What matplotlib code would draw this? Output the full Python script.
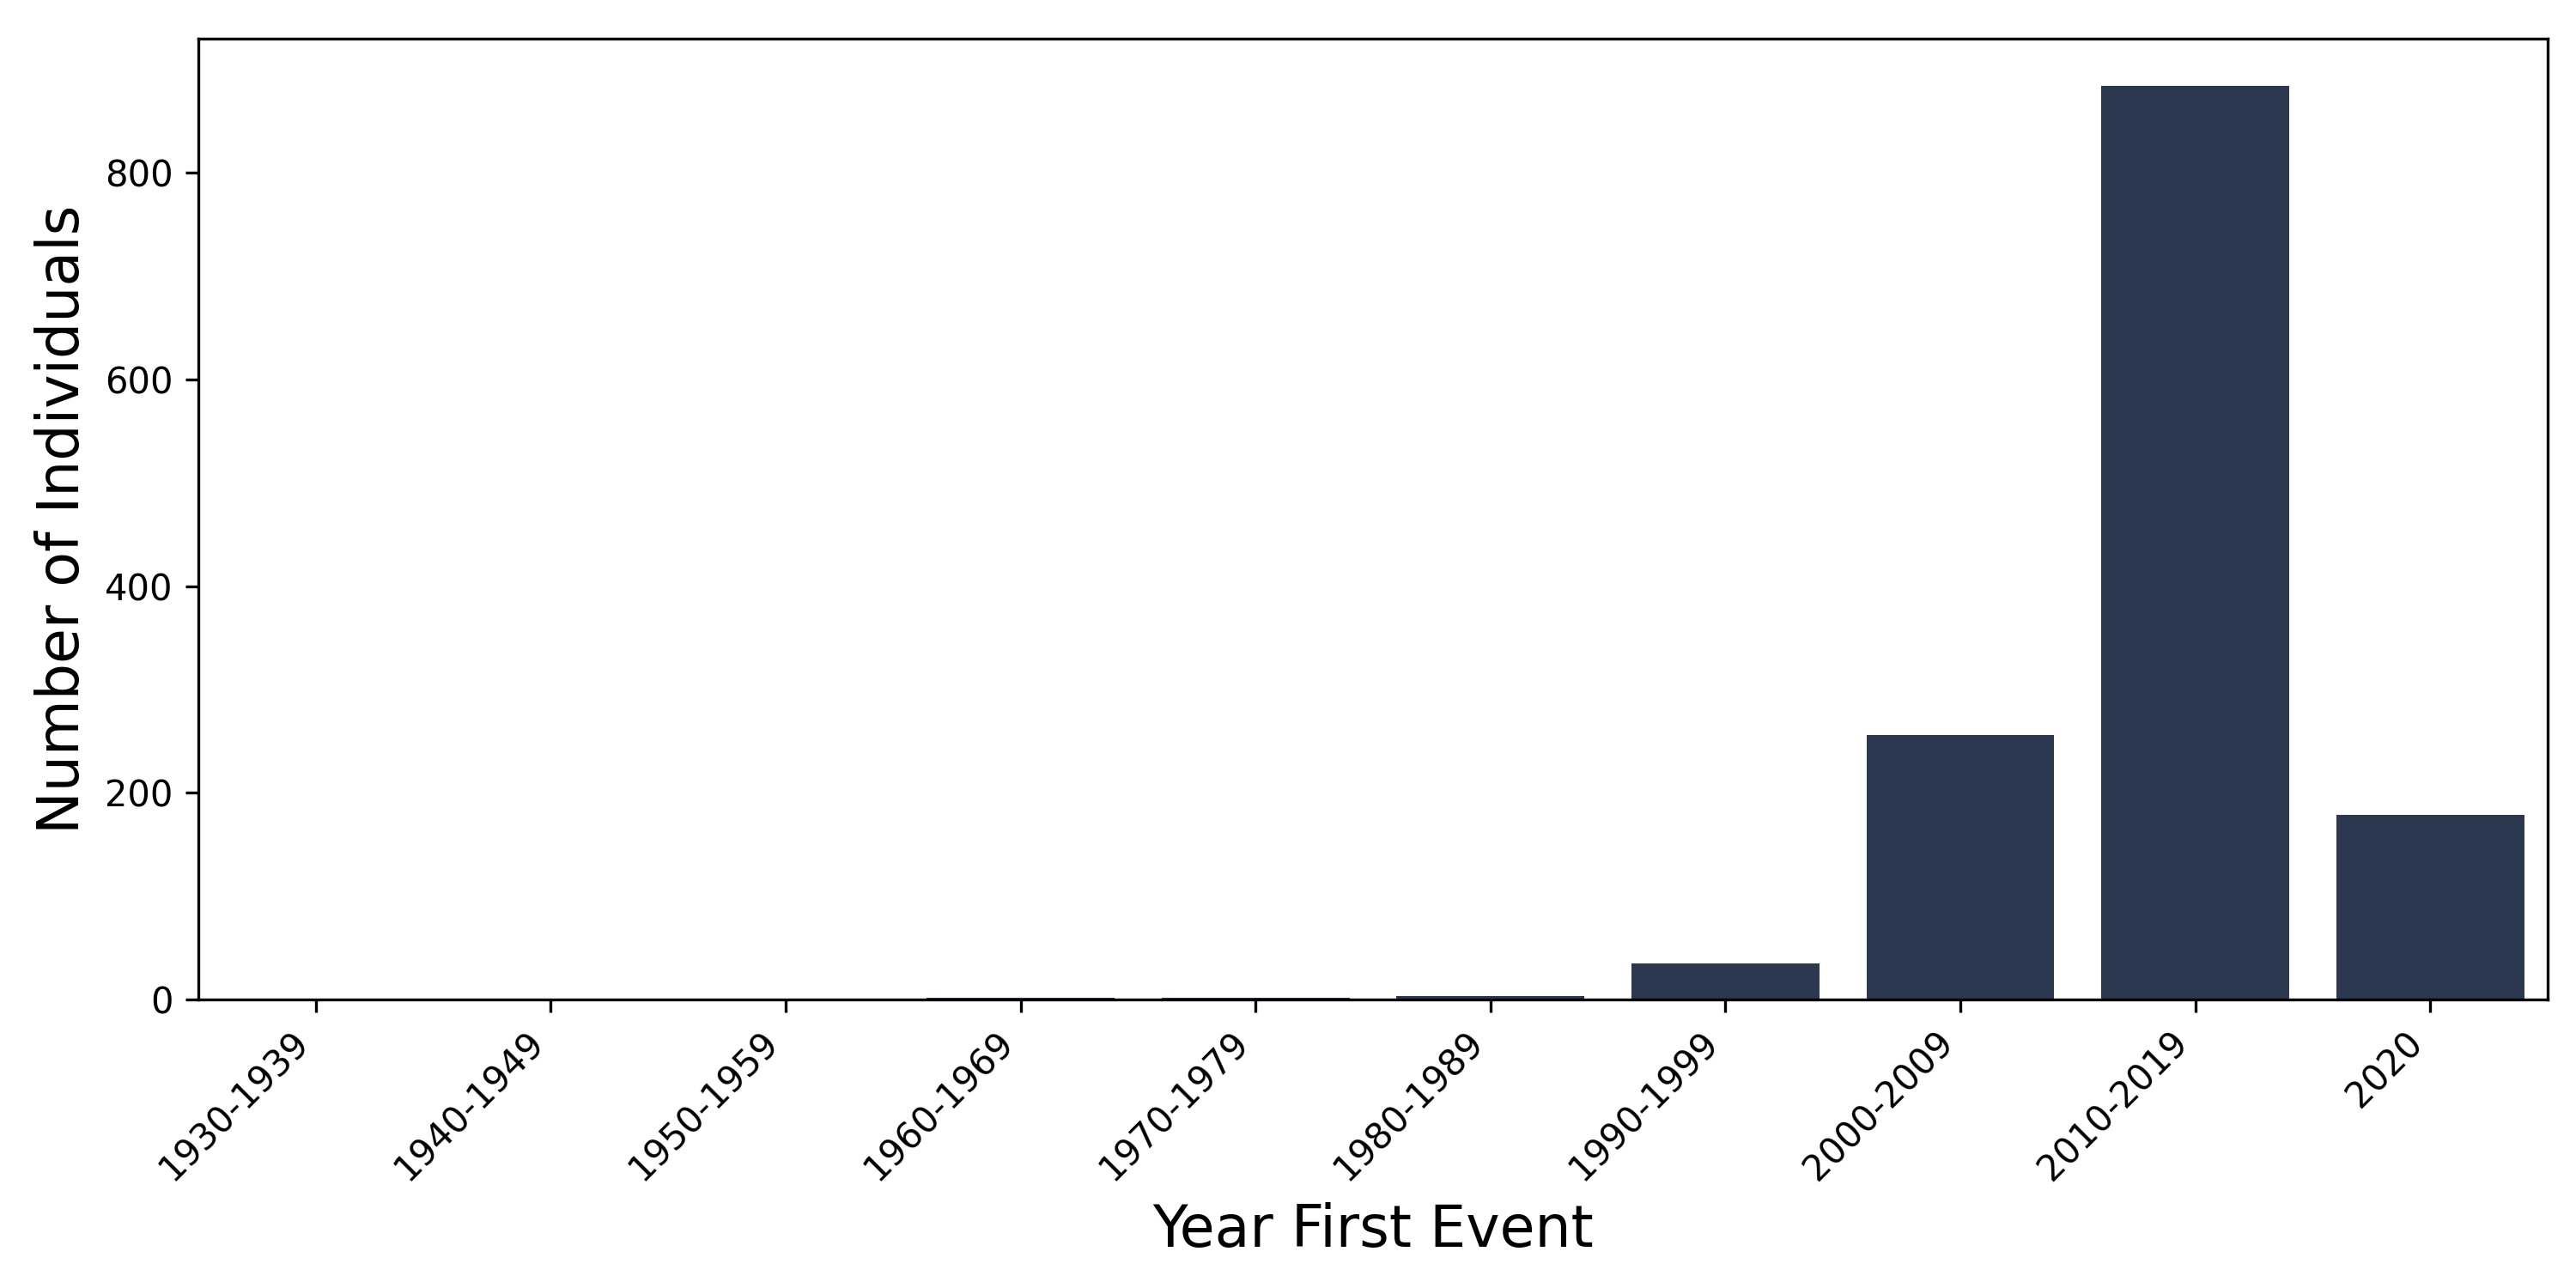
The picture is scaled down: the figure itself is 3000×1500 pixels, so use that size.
import matplotlib
matplotlib.use("Agg")
import matplotlib.pyplot as plt
import numpy as np

decades = ["1930-1939", "1940-1949", "1950-1959", "1960-1969", "1970-1979",
           "1980-1989", "1990-1999", "2000-2009", "2010-2019", "2020"]
counts = [1, 0, 0, 2, 2, 3, 35, 256, 884, 179]

fig, ax = plt.subplots(figsize=(10, 5), dpi=300)
x = np.arange(len(decades))
ax.bar(x, counts, width=0.8, color="#2c3850")
ax.set_xlim(-0.5, len(decades) - 0.5)
ax.set_ylim(0, 930)
ax.set_xticks(x)
ax.set_xticklabels(decades, rotation=45, ha="right")
ax.set_xlabel("Year First Event", fontsize=16)
ax.set_ylabel("Number of Individuals", fontsize=16)
fig.subplots_adjust(left=0.077, right=0.989, top=0.97, bottom=0.224)
fig.savefig("out.png")
